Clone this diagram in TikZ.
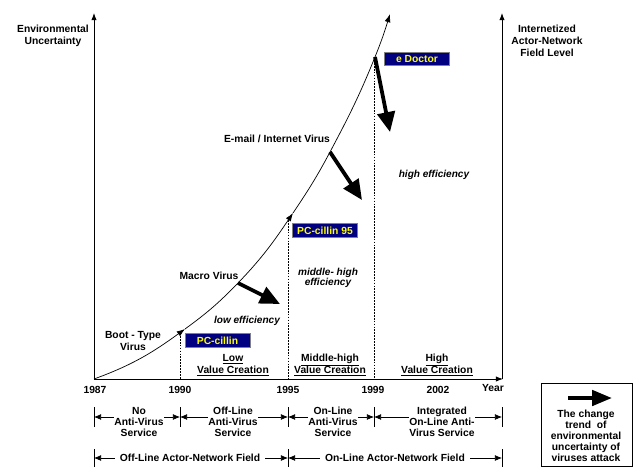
\documentclass[tikz,border=0pt]{standalone}
\usepackage{fontspec}
\setmainfont{Liberation Sans}
\usetikzlibrary{arrows.meta,positioning,calc}
\definecolor{BoxNavy}{RGB}{0,0,128}
\definecolor{BoxYellow}{RGB}{255,255,0}
\tikzset{
  lbl/.style={font=\bfseries\fontsize{8.8}{9.5}\selectfont,align=center,inner sep=1pt},
  wide/.style={font=\bfseries\fontsize{8.8}{10.4}\selectfont,align=center,inner sep=1pt},
  eff/.style={font=\bfseries\itshape\fontsize{8.6}{8.8}\selectfont,align=center,inner sep=1pt},
  product/.style={draw=gray,fill=BoxNavy,text=BoxYellow,line width=0.8pt,
    font=\bfseries\fontsize{8.8}{9.6}\selectfont,minimum width=1.95cm,
    minimum height=0.4cm,inner sep=0pt},
  period/.style={lbl,fill=white,inner sep=0.5pt},
  axis/.style={-{Latex[length=6pt,width=4.5pt]},line width=0.8pt},
  curve/.style={-{Latex[length=7pt,width=5pt]},line width=0.6pt},
  trend/.style={-{Triangle[length=17pt,width=15pt]},line width=3.2pt},
  guide/.style={dash pattern=on 1.5pt off 1pt,line width=0.6pt},
  span/.style={{Latex[length=6pt,width=5pt]}-{Latex[length=6pt,width=5pt]},line width=0.6pt},
  tickmark/.style={line width=0.7pt}
}

\begin{document}
\begin{tikzpicture}[x=0.03cm,y=-0.03cm]
\useasboundingbox (0,0) rectangle (635,467);

% axes
\coordinate (O) at (94,379);
\coordinate (ytop) at (94,13);
\coordinate (xend) at (503,379);
\coordinate (rbot) at (502,379);
\coordinate (rtop) at (502,13);
\draw[axis] (O) -- (ytop);
\draw[axis] (O) -- (xend);
\draw[axis] (rbot) -- (rtop);

\node[wide] (envunc) at (53,36) {Environmental\\Uncertainty};
\node[wide] (fieldlvl) at (547,41) {Internetized\\Actor-Network\\Field Level};

% uncertainty curve
\coordinate (p0) at (94,379);
\coordinate (p1) at (185,329);
\coordinate (p2) at (238,283);
\coordinate (p3) at (293,213);
\coordinate (p4) at (330,152);
\coordinate (p5) at (375,57);
\coordinate (p6) at (390,14);
\draw[curve] (p0) to[out=20,in=216] (p1);
\draw[curve] (p1) to[out=36,in=226] (p2) to[out=46,in=236] (p3);
\draw[curve] (p3) to[out=56,in=242] (p4) to[out=62,in=248] (p5)
  to[out=68,in=253] (p6);

% year guides
\coordinate (g90) at (180,333);
\coordinate (g95) at (288,220);
\coordinate (g99) at (374,60);
\draw[guide] (g90) -- (g90 |- O);
\draw[guide] (g95) -- (g95 |- O);
\draw[guide] (g99) -- (g99 |- O);

% virus labels
\node[lbl] (boot) at (133,341) {Boot - Type\\Virus};
\node[lbl] (macro) at (209,276) {Macro Virus};
\node[lbl] (email) at (277,139) {E-mail / Internet Virus};

% products
\node[product] (pcc) at (217.5,340.5) {PC-cillin};
\node[product] (pcc95) at (325,230.5) {PC-cillin 95};
\node[product] (edoc) at (417,59) {e Doctor};

% trend arrows
\coordinate (m2) at (280,304);
\coordinate (e2) at (362,200);
\coordinate (d2) at (390,132);
\draw[trend] (p2) -- (m2);
\draw[trend] (p4) -- (e2);
\draw[trend] (p5) -- (d2);

% efficiency
\node[eff] (loweff) at (247,321) {low efficiency};
\node[eff] (mideff) at (328,278) {middle- high\\efficiency};
\node[eff] (higheff) at (434,175) {high efficiency};

\node[wide] (lowval) at (233,365) {\underline{Low}\\\underline{Value Creation}};
\node[wide] (midval) at (330,365) {\underline{Middle-high}\\\underline{Value Creation}};
\node[wide] (highval) at (437,365) {\underline{High}\\\underline{Value Creation}};

% years
\node[lbl] (y87) at (95,390) {1987};
\node[lbl] (y90) at (180,390) {1990};
\node[lbl] (y95) at (288,390) {1995};
\node[lbl] (y99) at (373,390) {1999};
\node[lbl] (y02) at (438,390) {2002};
\node[lbl] (yr) at (493,388) {Year};

% service periods
\foreach \x [count=\i] in {94,180,288,374,502} {
  \draw[tickmark] (\x,407) -- (\x,427);
  \coordinate (r\i) at (\x,417);
}
\draw[span] (r1) -- (r2);
\draw[span] (r2) -- (r3);
\draw[span] (r3) -- (r4);
\draw[span] (r4) -- (r5);
\node[period] (srv1) at (139,422) {No\\Anti-Virus\\Service};
\node[period] (srv2) at (233,422) {Off-Line\\Anti-Virus\\Service};
\node[period] (srv3) at (333,422) {On-Line\\Anti-Virus\\Service};
\node[period] (srv4) at (442,422) {Integrated\\On-Line Anti-\\Virus Service};

% actor-network fields
\foreach \x [count=\i] in {94,288,502} {
  \draw[tickmark] (\x,449) -- (\x,467);
  \coordinate (f\i) at (\x,458);
}
\draw[span] (f1) -- (f2);
\draw[span] (f2) -- (f3);
\node[period,inner xsep=4pt] (fld1) at (190,458) {Off-Line Actor-Network Field};
\node[period,inner xsep=4pt] (fld2) at (395,458) {On-Line Actor-Network Field};

% legend
\draw[line width=0.8pt] (541,383) rectangle (632,466);
\coordinate (la) at (568,398);
\coordinate (lb) at (612,398);
\draw[trend,line width=3.4pt,-{Triangle[length=17pt,width=13pt]}] (la) -- (lb);
\node[lbl] (legtxt) at (586,436) {The change\\trend\ \ of\\environmental\\uncertainty of\\viruses attack};
\end{tikzpicture}
\end{document}
